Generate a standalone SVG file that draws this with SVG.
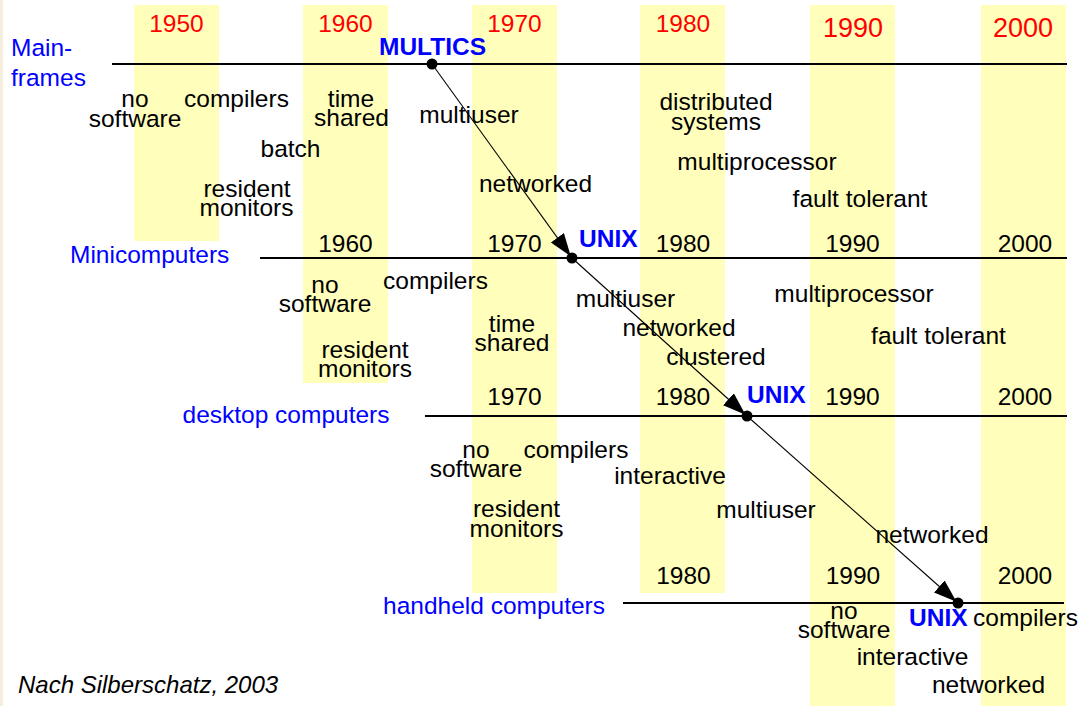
<svg xmlns="http://www.w3.org/2000/svg" width="1082" height="706" viewBox="0 0 1082 706">
<defs>
<style>
text{font-family:"Liberation Sans",Arial,sans-serif;font-size:24.5px;fill:#000}
.c{text-anchor:middle}
.yr{fill:#FF0000}
.big{font-size:27px}
.blue{fill:#0000FF}
.os{fill:#0000FF;font-weight:bold}
.it{font-style:italic;font-size:24px}
.col{fill:#FFFFBB}
.axis{stroke:#000;stroke-width:2.2}
.arr{stroke:#000;stroke-width:1.1;fill:none;marker-end:url(#ah)}
.dot{fill:#000}
</style>
<marker id="ah" markerUnits="userSpaceOnUse" markerWidth="26" markerHeight="18" viewBox="0 0 26 18" refX="25" refY="9" orient="auto">
<path d="M0,1 L23,9 L0,17 z" fill="#000"/>
</marker>
</defs>
<rect width="1082" height="706" fill="#FFFFFF"/>
<rect x="0" y="0" width="3" height="706" fill="#F5EEDC"/>
<g id="columns">
<rect class="col" x="134" y="5" width="85" height="236"/>
<rect class="col" x="303" y="5" width="85" height="378"/>
<rect class="col" x="472" y="5" width="85" height="588"/>
<rect class="col" x="640" y="5" width="85" height="588"/>
<rect class="col" x="810" y="5" width="85" height="701"/>
<rect class="col" x="981" y="5" width="85" height="701"/>
</g>
<g id="years-top">
<text class="c yr" x="176.5" y="32">1950</text>
<text class="c yr" x="345.5" y="32">1960</text>
<text class="c yr" x="514.5" y="32">1970</text>
<text class="c yr" x="683" y="32">1980</text>
<text class="c yr big" x="853" y="37">1990</text>
<text class="c yr big" x="1023" y="37">2000</text>
</g>
<g id="axes">
<line class="axis" x1="112" y1="64" x2="1067" y2="64"/>
<line class="axis" x1="260" y1="258" x2="1067" y2="258"/>
<line class="axis" x1="425" y1="416" x2="1067" y2="416"/>
<line class="axis" x1="623" y1="603" x2="1064" y2="603"/>
</g>
<g id="connectors">
<line class="arr" x1="432" y1="64" x2="572" y2="258"/>
<line class="arr" x1="572" y1="258" x2="747" y2="416"/>
<line class="arr" x1="747" y1="416" x2="958" y2="603"/>
</g>
<g id="mainframes">
<text class="blue" x="11" y="56">Main-</text>
<text class="blue" x="11" y="86">frames</text>
<circle class="dot" cx="432" cy="64" r="5.5"/>
<text class="os" x="379" y="55">MULTICS</text>
<text class="c" x="135" y="107">no</text>
<text class="c" x="135" y="127">software</text>
<text class="c" x="236.5" y="107">compilers</text>
<text class="c" x="351" y="107">time</text>
<text class="c" x="351.5" y="126">shared</text>
<text class="c" x="290.5" y="157">batch</text>
<text class="c" x="247" y="197">resident</text>
<text class="c" x="246.5" y="216">monitors</text>
<text class="c" x="469" y="123">multiuser</text>
<text class="c" x="535.5" y="192">networked</text>
<text class="c" x="716" y="110">distributed</text>
<text class="c" x="716" y="130">systems</text>
<text class="c" x="757" y="170">multiprocessor</text>
<text class="c" x="860" y="207">fault tolerant</text>
</g>
<g id="minicomputers">
<text class="blue" x="70" y="263">Minicomputers</text>
<text class="c" x="345.5" y="252">1960</text>
<text class="c" x="514.5" y="252">1970</text>
<text class="c" x="683" y="252">1980</text>
<text class="c" x="852.5" y="252">1990</text>
<text class="c" x="1025" y="252">2000</text>
<circle class="dot" cx="572" cy="258" r="5.5"/>
<text class="os" x="579" y="247">UNIX</text>
<text class="c" x="325" y="293">no</text>
<text class="c" x="325" y="312">software</text>
<text class="c" x="435.5" y="289">compilers</text>
<text class="c" x="365" y="358">resident</text>
<text class="c" x="365" y="377">monitors</text>
<text class="c" x="512" y="332">time</text>
<text class="c" x="512" y="351">shared</text>
<text class="c" x="625.5" y="307">multiuser</text>
<text class="c" x="679" y="336">networked</text>
<text class="c" x="716" y="365">clustered</text>
<text class="c" x="854" y="302">multiprocessor</text>
<text class="c" x="938.5" y="344">fault tolerant</text>
</g>
<g id="desktop">
<text class="blue" x="182.5" y="423">desktop computers</text>
<text class="c" x="514.5" y="405">1970</text>
<text class="c" x="683" y="405">1980</text>
<text class="c" x="852.5" y="405">1990</text>
<text class="c" x="1025" y="405">2000</text>
<circle class="dot" cx="747" cy="416" r="5.5"/>
<text class="os" x="747" y="403">UNIX</text>
<text class="c" x="476" y="458">no</text>
<text class="c" x="476" y="477">software</text>
<text class="c" x="576" y="458">compilers</text>
<text class="c" x="670" y="484">interactive</text>
<text class="c" x="516.5" y="517">resident</text>
<text class="c" x="516.5" y="537">monitors</text>
<text class="c" x="766" y="518">multiuser</text>
<text class="c" x="932" y="543">networked</text>
</g>
<g id="handheld">
<text class="blue" x="383" y="614">handheld computers</text>
<text class="c" x="683.5" y="584">1980</text>
<text class="c" x="853" y="584">1990</text>
<text class="c" x="1025" y="584">2000</text>
<circle class="dot" cx="958" cy="603" r="5.5"/>
<text class="os" x="909" y="626">UNIX</text>
<text class="c" x="1025.5" y="626">compilers</text>
<text class="c" x="844" y="619">no</text>
<text class="c" x="844" y="638">software</text>
<text class="c" x="912.5" y="665">interactive</text>
<text class="c" x="988.5" y="693">networked</text>
</g>
<g id="footer">
<text class="it" x="18" y="693">Nach Silberschatz, 2003</text>
</g>
</svg>
